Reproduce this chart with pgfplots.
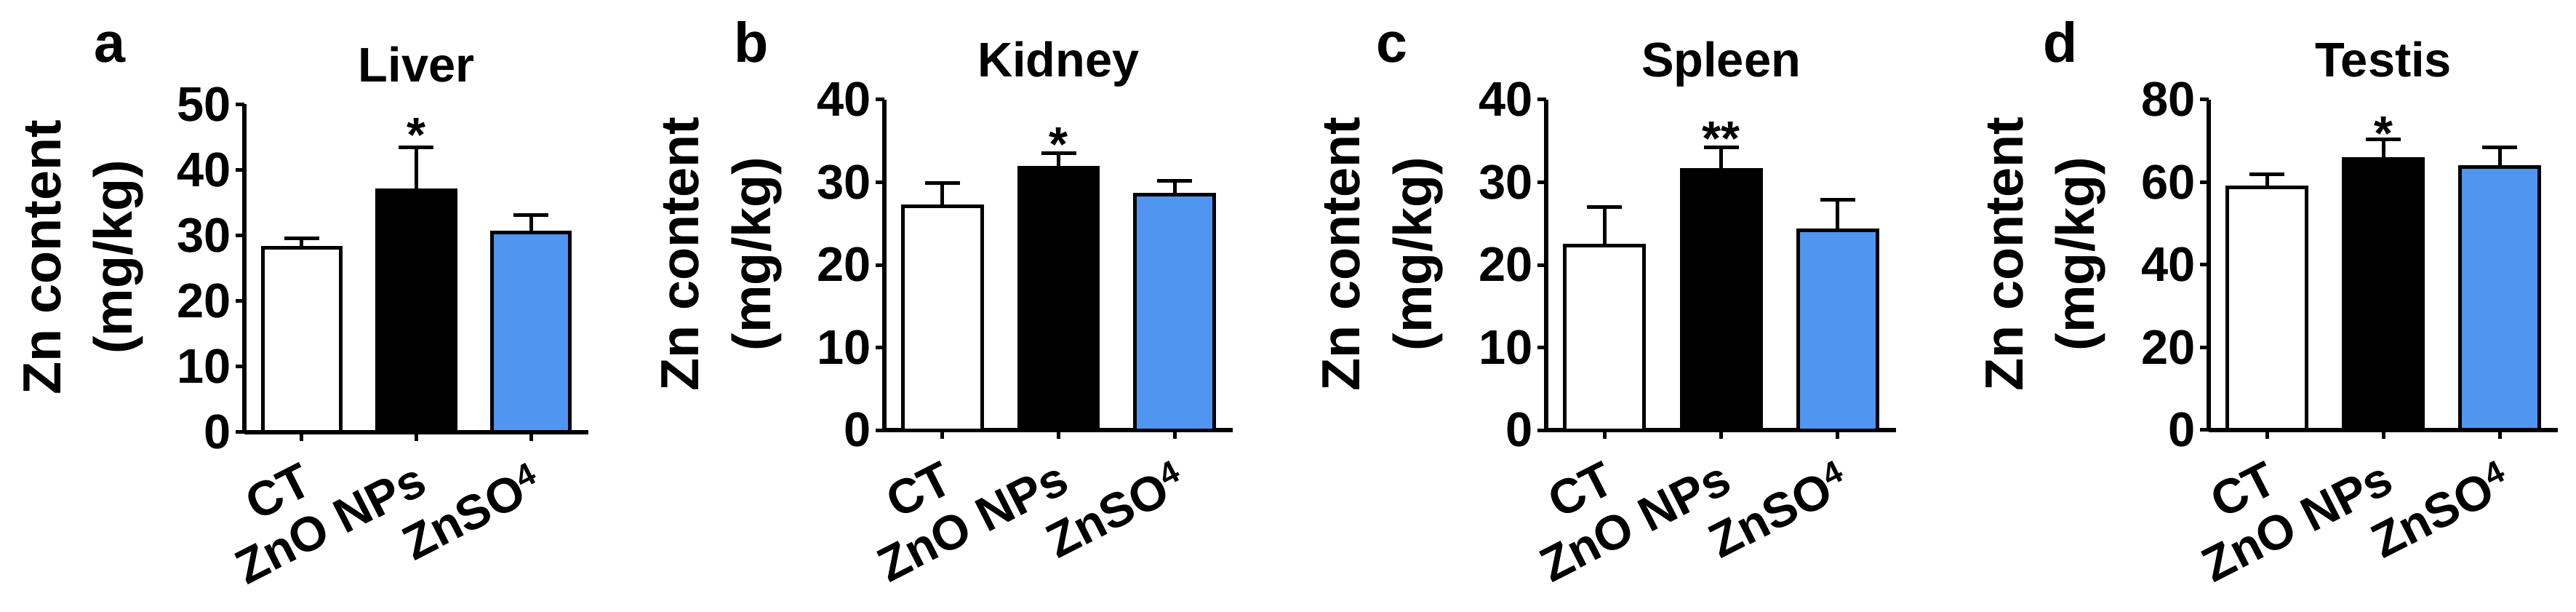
\documentclass[border=0pt]{standalone}
\usepackage{fontspec}
\setmainfont{Liberation Sans}
\usepackage{pgfplots}
\pgfplotsset{compat=1.18}
\definecolor{barblue}{RGB}{80,150,240}
\newcommand{\subf}{\raisebox{0.3em}{\fontsize{12.5}{12.5}\selectfont 4}}
\tikzset{sigstar/.style={anchor=base, yshift=-10.5pt, font=\bfseries\fontsize{19}{19}\selectfont}}
\pgfplotsset{
  zn/.style={
    scale only axis,
    ybar,
    bar width=0.68,
    xmin=-0.5, xmax=2.5,
    ymin=0,
    axis x line=bottom, axis y line=left,
    axis line style={-, line width=0.6mm},
    tick align=outside,
    major tick length=1.2mm,
    tick style={line width=0.5mm, black},
    xtick={0,1,2},
    xticklabels={CT,ZnO NPs,ZnSO\subf},
    xticklabel style={xshift=-0.3mm, yshift=-2.8mm, rotate=27, anchor=north east, inner sep=0pt,
      font=\bfseries\fontsize{19}{19}\selectfont},
    yticklabel style={inner sep=0pt, xshift=-0.6mm, font=\bfseries\fontsize{19}{19}\selectfont},
    /pgf/number format/assume math mode=true,
    ylabel={Zn content\\(mg/kg)},
    ylabel style={at={(axis description cs:-0.467,0.533)}, anchor=center, align=center,
      font=\bfseries\fontsize{21}{28}\selectfont},
    title style={at={(axis description cs:0.5,1)}, anchor=base, yshift=1mm,
      font=\bfseries\fontsize{19}{19}\selectfont},
    clip=false,
  },
  barct/.style={fill=white, draw=black, line width=0.5mm, bar shift=0pt,
    error bars/.cd, y dir=plus, y explicit, error mark=|,
    error bar style={line width=0.5mm, black},
    error mark options={line width=0.5mm, mark size=2.4mm, black}},
  barzno/.style={fill=black, draw=black, line width=0.5mm, bar shift=0pt,
    error bars/.cd, y dir=plus, y explicit, error mark=|,
    error bar style={line width=0.5mm, black},
    error mark options={line width=0.5mm, mark size=2.4mm, black}},
  barso/.style={fill=barblue, draw=black, line width=0.5mm, bar shift=0pt,
    error bars/.cd, y dir=plus, y explicit, error mark=|,
    error bar style={line width=0.5mm, black},
    error mark options={line width=0.5mm, mark size=2.4mm, black}},
}
\begin{document}
\begin{tikzpicture}
\path[use as bounding box] (0,0) rectangle (354.2mm,84mm);
% panel letters
\node[anchor=base west, inner sep=0pt, font=\bfseries\fontsize{22}{22}\selectfont] at (12.9mm,75.4mm) {a};
\node[anchor=base west, inner sep=0pt, font=\bfseries\fontsize{22}{22}\selectfont] at (100.9mm,75.4mm) {b};
\node[anchor=base west, inner sep=0pt, font=\bfseries\fontsize{22}{22}\selectfont] at (189.2mm,75.4mm) {c};
\node[anchor=base west, inner sep=0pt, font=\bfseries\fontsize{22}{22}\selectfont] at (280.9mm,75.4mm) {d};

% (a) Liver
\begin{axis}[zn, at={(33.6mm,24.65mm)}, anchor=south west, width=47.3mm, height=45.0mm,
  ymax=50, ytick={0,10,20,30,40,50}, title={Liver}]
\addplot[barct] coordinates {(0,28.1) +- (0,1.4)};
\addplot[barzno] coordinates {(1,36.9) +- (0,6.6)};
\addplot[barso] coordinates {(2,30.4) +- (0,2.7)};
\node[sigstar] at (axis cs:1,46.9) {*};
\end{axis}

% (b) Kidney
\begin{axis}[zn, at={(121.6mm,24.9mm)}, anchor=south west, width=47.9mm, height=45.4mm,
  ymax=40, ytick={0,10,20,30,40}, title={Kidney}]
\addplot[barct] coordinates {(0,27.1) +- (0,2.8)};
\addplot[barzno] coordinates {(1,31.8) +- (0,1.7)};
\addplot[barso] coordinates {(2,28.5) +- (0,1.7)};
\node[sigstar] at (axis cs:1,35.8) {*};
\end{axis}

% (c) Spleen
\begin{axis}[zn, at={(212.6mm,24.9mm)}, anchor=south west, width=48.1mm, height=45.4mm,
  ymax=40, ytick={0,10,20,30,40}, title={Spleen}]
\addplot[barct] coordinates {(0,22.3) +- (0,4.7)};
\addplot[barzno] coordinates {(1,31.5) +- (0,2.7)};
\addplot[barso] coordinates {(2,24.2) +- (0,3.7)};
\node[sigstar] at (axis cs:1,36.5) {**};
\end{axis}

% (d) Testis
\begin{axis}[zn, at={(303.7mm,24.9mm)}, anchor=south west, width=48.0mm, height=45.4mm,
  ymax=80, ytick={0,20,40,60,80}, title={Testis}]
\addplot[barct] coordinates {(0,58.8) +- (0,3.1)};
\addplot[barzno] coordinates {(1,65.6) +- (0,4.8)};
\addplot[barso] coordinates {(2,63.7) +- (0,4.7)};
\node[sigstar] at (axis cs:1,74.3) {*};
\end{axis}
\end{tikzpicture}
\end{document}
